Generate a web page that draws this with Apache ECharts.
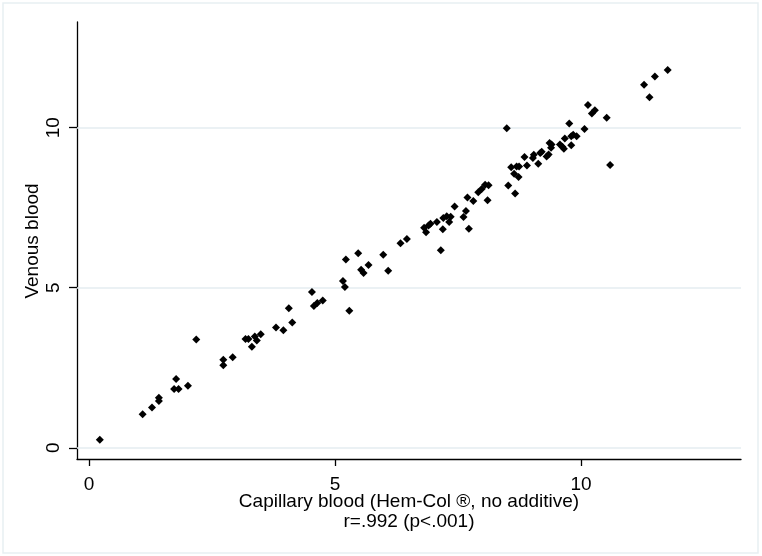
<!DOCTYPE html>
<html>
<head>
<meta charset="utf-8">
<script src="https://cdn.jsdelivr.net/npm/echarts@6/dist/echarts.min.js"></script>
<style>html,body{margin:0;padding:0;background:#fff}#c{width:762px;height:556px}</style>
</head>
<body>
<div id="c"></div>
<script>
const capillary = [0.22,1.09,1.28,1.42,1.42,1.77,1.73,1.82,2.01,2.18,2.73,2.73,2.92,3.18,3.24,3.37,3.31,3.41,3.49,3.80,3.95,4.06,4.13,4.53,4.57,4.64,4.75,5.16,5.20,5.22,5.29,5.47,5.53,5.58,5.68,5.98,6.08,6.33,6.46,6.81,6.85,6.90,6.94,7.07,7.15,7.19,7.20,7.27,7.32,7.35,7.43,7.61,7.66,7.69,7.72,7.81,7.91,7.98,8.05,8.12,8.10,8.52,8.66,8.49,8.58,8.69,8.74,8.64,8.73,8.85,8.90,9.02,9.04,9.13,9.17,9.20,9.30,9.34,9.36,9.40,9.39,9.57,9.62,9.65,9.67,9.76,9.80,9.80,9.84,9.91,10.07,10.14,10.22,10.28,10.52,10.59,11.28,11.39,11.50,11.76];
const venous = [0.25,1.05,1.26,1.56,1.46,2.15,1.84,1.84,1.94,3.38,2.75,2.58,2.83,3.40,3.40,3.48,3.16,3.35,3.55,3.76,3.67,4.36,3.91,4.87,4.43,4.52,4.60,5.21,5.02,5.88,4.28,6.08,5.56,5.46,5.71,6.03,5.53,6.39,6.52,6.87,6.73,6.94,7.00,7.05,6.17,6.83,7.18,7.23,7.05,7.22,7.54,7.21,7.40,7.82,6.84,7.71,7.98,8.08,8.22,8.20,7.73,8.19,7.94,9.98,8.76,8.79,8.79,8.56,8.46,9.08,8.82,9.05,9.15,8.875,9.21,9.25,9.10,9.16,9.52,9.47,9.37,9.47,9.40,9.34,9.66,10.13,9.73,9.45,9.78,9.73,9.96,10.71,10.44,10.54,10.31,8.83,11.34,10.95,11.60,11.80];
const tickValues = [0, 5, 10];
const xTitle = 'Capillary blood (Hem-Col ®, no additive)';
const xSubtitle = 'r=.992 (p<.001)';
const yTitle = 'Venous blood';

const FONT = '"Liberation Sans", Arial, sans-serif';
const chart = echarts.init(document.getElementById('c'), null, {renderer: 'canvas'});
const points = capillary.map((x, i) => [x, venous[i]]);

chart.setOption({
  animation: false,
  backgroundColor: '#ffffff',
  grid: {left: 77, right: 21, top: 22, bottom: 97, containLabel: false},
  xAxis: {
    type: 'value', min: -0.244, max: 13.25,
    axisLine: {show: true, onZero: false, lineStyle: {color: '#000', width: 1.3}},
    axisTick: {show: true, customValues: tickValues, length: 7, lineStyle: {color: '#000', width: 1.3}},
    axisLabel: {show: true, customValues: tickValues, fontSize: 19, fontFamily: FONT, color: '#000', margin: 16},
    splitLine: {show: false}
  },
  yAxis: {
    type: 'value', min: -0.35, max: 13.3,
    axisLine: {show: true, onZero: false, lineStyle: {color: '#000', width: 1.3}},
    axisTick: {show: true, customValues: tickValues, length: 8, lineStyle: {color: '#000', width: 1.3}},
    axisLabel: {show: true, customValues: tickValues, rotate: 90, fontSize: 19, fontFamily: FONT, color: '#000', margin: 14},
    splitLine: {show: false}
  },
  series: [{
    type: 'scatter',
    data: points,
    symbol: 'diamond',
    symbolSize: 8,
    itemStyle: {color: '#000', opacity: 1},
    z: 3,
    markLine: {
      silent: true,
      symbol: ['none', 'none'],
      label: {show: false},
      lineStyle: {color: '#e4edf0', width: 1.5, type: 'solid'},
      data: tickValues.map(v => ({yAxis: v})),
      z: 1
    }
  }],
  graphic: [
    {type: 'rect', shape: {x: 3, y: 3, width: 755, height: 550}, style: {fill: 'none', stroke: '#e8eff2', lineWidth: 1.5}, silent: true},
    {type: 'text', x: 409, y: 502, style: {text: xTitle, font: '19px ' + FONT, fill: '#000', align: 'center', verticalAlign: 'middle'}},
    {type: 'text', x: 409, y: 522, style: {text: xSubtitle, font: '19px ' + FONT, fill: '#000', align: 'center', verticalAlign: 'middle'}},
    {type: 'text', x: 33, y: 241, rotation: Math.PI / 2, style: {text: yTitle, font: '19px ' + FONT, fill: '#000', align: 'center', verticalAlign: 'middle'}}
  ]
});
</script>
</body>
</html>
